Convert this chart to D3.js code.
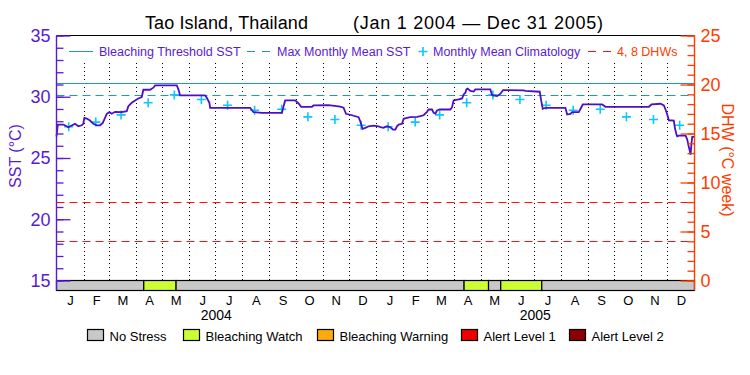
<!DOCTYPE html>
<html>
<head>
<meta charset="utf-8">
<script src="https://cdn.jsdelivr.net/npm/d3@7"></script>
<style>
  body { margin: 0; background: #fff; }
  text { font-family: "Liberation Sans", Arial, sans-serif; }
</style>
</head>
<body>
<svg id="chart" width="750" height="375"></svg>
<script>
// --- data ---
const SITE = "Tao Island, Thailand";
const PERIOD = "(Jan 1 2004 \u2014 Dec 31 2005)";
const START = new Date(2004, 0, 1);
const END = new Date(2006, 0, 1);

// [days since Jan 1 2004, SST degC]
const sstSeries = [
  [0, 26.77], [1.5, 27.73], [8, 27.73], [13.5, 27.51], [17.4, 27.65], [21.2, 27.79], [25, 27.59],
  [28.9, 27.67], [30.7, 27.79], [31.9, 28.28], [34.6, 28.22], [38.4, 28.06], [42.2, 27.79],
  [46.1, 27.67], [49.9, 27.67], [53, 27.87], [55.6, 28.28], [57.6, 28.61], [60.6, 28.74],
  [63.3, 28.61], [67.1, 28.77], [74.8, 28.74], [80.5, 28.82], [82.3, 29.23], [86.2, 29.51],
  [90, 29.70], [93.8, 29.86], [97.7, 29.97], [99.5, 30.57], [107.2, 30.57], [111, 30.74],
  [113, 30.93], [137.8, 30.93], [139.7, 30.60], [141.6, 30.11], [170.3, 30.11], [172.2, 29.92],
  [175.2, 29.51], [176, 29.10], [221.9, 29.10], [225.7, 28.74], [235.3, 28.69], [258.3, 28.69],
  [260.1, 29.2], [262, 29.70], [273.5, 29.70], [277.3, 29.45], [280.4, 29.18], [292.7, 29.18],
  [294.5, 29.29], [311.7, 29.31], [325.1, 29.2], [328.9, 29.1], [331.7, 28.61], [338.5, 28.49],
  [346.1, 28.33], [348, 28.0], [350.7, 27.38], [353.8, 27.46], [357.6, 27.59], [363.3, 27.65],
  [369, 27.59], [371, 27.51], [374.8, 27.46], [378.7, 27.59], [382.5, 27.51], [385.6, 27.32],
  [388.2, 27.32], [390.1, 27.59], [392, 27.73], [395.9, 27.79], [397.7, 28.2], [401.6, 28.28],
  [405.4, 28.33], [413.1, 28.36], [416.9, 28.41], [420.6, 28.49], [424.5, 28.77], [426.4, 28.96],
  [430.3, 28.96], [432.1, 28.69], [434.1, 28.63], [436, 28.88], [439, 28.96], [451.3, 28.96],
  [453.2, 29.15], [455, 29.70], [460.8, 29.78], [464.7, 29.86], [466.5, 30.19], [468.5, 30.33],
  [469.6, 30.6], [471.1, 30.66], [474.2, 30.47], [478, 30.42], [479.9, 30.6], [497.1, 30.6],
  [499.1, 30.13], [504.8, 30.05], [508.6, 30.25], [511.7, 30.54], [535.3, 30.52], [537.3, 30.48],
  [553.7, 30.41], [555.3, 29.7], [557.1, 29.02], [560.2, 29.1], [583.1, 29.1], [585.1, 28.55],
  [588.9, 28.6], [590.8, 28.74], [598.4, 28.74], [600.3, 29.0], [603, 29.37], [625.2, 29.37],
  [629, 29.18], [678.7, 29.18], [681.8, 29.37], [692.1, 29.43], [695.9, 29.3], [697.8, 28.96],
  [699.8, 28.55], [701.6, 28.08], [707.3, 28.06], [708.5, 27.46], [710.4, 26.91], [711.2, 26.77],
  [713.1, 26.83], [720.8, 26.83], [722.7, 26.5], [723.9, 26.09], [725.3, 25.68], [726.5, 25.27],
  [727.6, 26.23], [728.4, 26.72], [730.5, 26.72]
];

const climYears = [2004, 2005];
const climValues = [27.55, 27.93, 28.52, 29.51, 30.15, 29.78, 29.31, 28.90, 28.98, 28.36, 28.14, 27.67];
const maxMonthlyMean = 30.13;
const bleachingThreshold = 31.13;
const dhwLevels = [4, 8];

const monthLetters = ["J", "F", "M", "A", "M", "J", "J", "A", "S", "O", "N", "D"];

const stressStarts = ["2004-01-01", "2004-04-10", "2004-05-17", "2005-04-12", "2005-05-10", "2005-05-24", "2005-07-10"];
const stressLevels = [0, 1, 0, 1, 0, 1, 0];
const stressNames = ["No Stress", "Bleaching Watch", "Bleaching Warning", "Alert Level 1", "Alert Level 2"];
const stressColors = ["#c8c8c8", "#ccff33", "#fcaa0c", "#ee0000", "#8b0000"];

// --- styling ---
const PURPLE = "#5a1ad2";
const LINE_PURPLE = "#4c10c4";
const ORANGE = "#ff3c00";
const BLUE = "#1e8eff";
const CYAN = "#10c4ff";
const RED = "#ff1010";
const FONT = '"Liberation Sans", Arial, sans-serif';

const svg = d3.select("#chart");

const x = d3.scaleTime().domain([START, END]).range([56.5, 694.5]);
const ySst = d3.scaleLinear().domain([15, 35]).range([280.5, 35.5]);
const yDhw = d3.scaleLinear().domain([0, 25]).range([280.5, 35.5]);
const BAR_TOP = 280.5, BAR_BOTTOM = 290.5;

const dayToDate = d => new Date(START.getTime() + d * 864e5);
const parse = d3.timeParse("%Y-%m-%d");

// title
svg.append("text").attr("x", 145).attr("y", 29).attr("font-size", 18).attr("fill", "#000")
  .attr("textLength", 163).attr("lengthAdjust", "spacing").text(SITE);
svg.append("text").attr("x", 353).attr("y", 29).attr("font-size", 18).attr("fill", "#000")
  .attr("textLength", 250).attr("lengthAdjust", "spacing").text(PERIOD);

// month dotted lines
const monthStarts = d3.timeMonth.range(d3.timeMonth.offset(START, 1), END);
svg.append("g").selectAll("line").data(monthStarts).join("line")
  .attr("x1", d => Math.round(x(d)) + 0.5).attr("x2", d => Math.round(x(d)) + 0.5)
  .attr("y1", 63).attr("y2", BAR_TOP)
  .attr("stroke", "#000").attr("stroke-width", 1).attr("stroke-dasharray", "1,3");

// DHW reference lines
svg.append("g").selectAll("line").data(dhwLevels).join("line")
  .attr("x1", x.range()[0]).attr("x2", x.range()[1])
  .attr("y1", d => Math.round(yDhw(d)) + 0.5).attr("y2", d => Math.round(yDhw(d)) + 0.5)
  .attr("stroke", RED).attr("stroke-dasharray", "8,5");

// threshold + MMM
svg.append("line")
  .attr("x1", x.range()[0]).attr("x2", x.range()[1])
  .attr("y1", Math.round(ySst(bleachingThreshold)) + 0.5).attr("y2", Math.round(ySst(bleachingThreshold)) + 0.5)
  .attr("stroke", BLUE).attr("stroke-width", 1);
svg.append("line")
  .attr("x1", x.range()[0]).attr("x2", x.range()[1])
  .attr("y1", Math.round(ySst(maxMonthlyMean)) + 0.5).attr("y2", Math.round(ySst(maxMonthlyMean)) + 0.5)
  .attr("stroke", BLUE).attr("stroke-width", 1.2).attr("stroke-dasharray", "8,5");

// climatology pluses
const climPoints = climYears.flatMap(yr => climValues.map((v, m) => ({ date: new Date(yr, m, 15), value: v })));
svg.append("g").selectAll("path").data(climPoints).join("path")
  .attr("transform", d => `translate(${x(d.date)},${ySst(d.value)})`)
  .attr("d", "M-4.5,0H4.5M0,-4.5V4.5")
  .attr("stroke", CYAN).attr("stroke-width", 1.6).attr("fill", "none");

// SST line
const line = d3.line()
  .x(d => x(dayToDate(d[0])))
  .y(d => ySst(d[1]));
svg.append("path").datum(sstSeries)
  .attr("d", line)
  .attr("fill", "none").attr("stroke", LINE_PURPLE).attr("stroke-width", 1.8)
  .attr("stroke-linejoin", "miter");

// stress bar
const stressSegs = stressStarts.map((s, i) => ({
  start: parse(s),
  end: i + 1 < stressStarts.length ? parse(stressStarts[i + 1]) : END,
  level: stressLevels[i]
}));
svg.append("g").selectAll("rect").data(stressSegs).join("rect")
  .attr("x", d => x(d.start)).attr("width", d => x(d.end) - x(d.start))
  .attr("y", BAR_TOP).attr("height", BAR_BOTTOM - BAR_TOP)
  .attr("fill", d => stressColors[d.level]).attr("stroke", "#000").attr("stroke-width", 1.2);

// top frame line
svg.append("line").attr("x1", x.range()[0]).attr("x2", x.range()[1]).attr("y1", 35.5).attr("y2", 35.5)
  .attr("stroke", "#000");

// left axis (SST)
const leftMinor = d3.axisLeft(ySst).tickValues(d3.range(15, 36, 1)).tickSizeInner(-7).tickSizeOuter(0).tickFormat("");
const leftMajor = d3.axisLeft(ySst).tickValues([15, 20, 25, 30, 35]).tickSizeInner(-14).tickSizeOuter(0).tickPadding(6);
[leftMinor, leftMajor].forEach(ax => {
  const g = svg.append("g").attr("transform", `translate(${x.range()[0]},0)`).call(ax);
  g.select(".domain").remove();
  g.selectAll("line").attr("stroke", PURPLE).attr("stroke-width", 1.3);
  g.selectAll("text").attr("fill", PURPLE).attr("font-size", 18).attr("font-family", FONT);
});
svg.append("line").attr("x1", x.range()[0]).attr("x2", x.range()[0]).attr("y1", 35.5).attr("y2", BAR_BOTTOM)
  .attr("stroke", PURPLE).attr("stroke-width", 1.4);

// right axis (DHW)
const rightMinor = d3.axisRight(yDhw).tickValues(d3.range(0, 26, 1)).tickSizeInner(-7).tickSizeOuter(0).tickFormat("");
const rightMajor = d3.axisRight(yDhw).tickValues([0, 5, 10, 15, 20, 25]).tickSizeInner(-14).tickSizeOuter(0).tickPadding(6);
[rightMinor, rightMajor].forEach(ax => {
  const g = svg.append("g").attr("transform", `translate(${x.range()[1]},0)`).call(ax);
  g.select(".domain").remove();
  g.selectAll("line").attr("stroke", ORANGE).attr("stroke-width", 1.3);
  g.selectAll("text").attr("fill", ORANGE).attr("font-size", 18).attr("font-family", FONT);
});
svg.append("line").attr("x1", x.range()[1]).attr("x2", x.range()[1]).attr("y1", 35.5).attr("y2", BAR_BOTTOM)
  .attr("stroke", ORANGE).attr("stroke-width", 1.4);

// axis titles
svg.append("text")
  .attr("transform", "translate(21,156) rotate(-90)")
  .attr("text-anchor", "middle").attr("font-size", 16).attr("fill", PURPLE)
  .text("SST (\u00b0C)");
svg.append("text")
  .attr("transform", "translate(722,160) rotate(90)")
  .attr("text-anchor", "middle").attr("font-size", 16).attr("fill", ORANGE)
  .text("DHW (\u00b0C week)");

// month + year labels
const monthMids = d3.timeMonth.range(START, END).map(d => new Date((+d + +d3.timeMonth.offset(d, 1)) / 2));
const monthAxis = d3.axisBottom(x).tickValues(monthMids).tickSize(0).tickPadding(5)
  .tickFormat(d => monthLetters[d.getMonth()]);
const mg = svg.append("g").attr("transform", `translate(0,${BAR_BOTTOM})`).call(monthAxis);
mg.select(".domain").remove();
mg.selectAll("text").attr("fill", "#000").attr("font-size", 13).attr("font-family", FONT);

svg.append("g").selectAll("text").data(climYears).join("text")
  .attr("x", d => (x(new Date(d, 0, 1)) + x(new Date(d + 1, 0, 1))) / 2)
  .attr("y", 320).attr("text-anchor", "middle").attr("font-size", 14).attr("fill", "#000")
  .text(d => d);

// top legend
const topLegend = svg.append("g").attr("font-size", 12.5);
topLegend.append("line").attr("x1", 69).attr("x2", 93).attr("y1", 51.5).attr("y2", 51.5).attr("stroke", BLUE);
topLegend.append("text").attr("x", 99).attr("y", 56).attr("fill", PURPLE).text("Bleaching Threshold SST");
topLegend.append("line").attr("x1", 247).attr("x2", 271).attr("y1", 51.5).attr("y2", 51.5)
  .attr("stroke", BLUE).attr("stroke-dasharray", "8,7");
topLegend.append("text").attr("x", 277).attr("y", 56).attr("fill", PURPLE).text("Max Monthly Mean SST");
topLegend.append("path").attr("d", "M418.5,51.5H427.5M423,47V56").attr("stroke", CYAN).attr("stroke-width", 1.6);
topLegend.append("text").attr("x", 433).attr("y", 56).attr("fill", PURPLE).text("Monthly Mean Climatology");
topLegend.append("line").attr("x1", 588).attr("x2", 612).attr("y1", 51.5).attr("y2", 51.5)
  .attr("stroke", RED).attr("stroke-dasharray", "8,7");
topLegend.append("text").attr("x", 617).attr("y", 56).attr("fill", ORANGE).text("4, 8 DHWs");

// stress legend
const legendX = [87.5, 183.5, 317.5, 461.5, 569.5];
const sl = svg.append("g").selectAll("g").data(stressNames).join("g")
  .attr("transform", (d, i) => `translate(${legendX[i]},329.5)`);
sl.append("rect").attr("width", 16).attr("height", 11)
  .attr("fill", (d, i) => stressColors[i]).attr("stroke", "#000").attr("stroke-width", 1.2);
sl.append("text").attr("x", 22).attr("y", 11).attr("font-size", 13).attr("fill", "#000").text(d => d);
</script>
</body>
</html>
